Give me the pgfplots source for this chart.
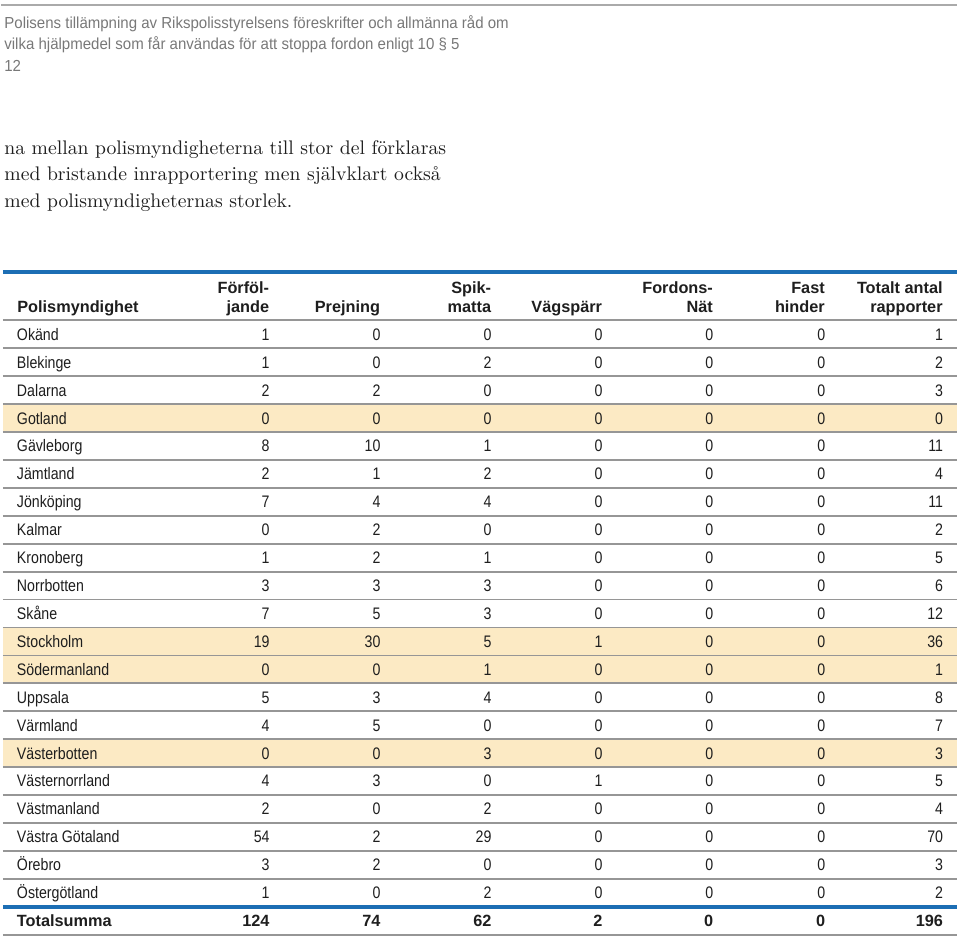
\documentclass[border=0pt]{standalone}
\usepackage{pgfplots}
\pgfplotsset{compat=1.18}
\usepackage{pgfplotstable}
\usepackage{fontspec}
\newfontfamily\sansf{Liberation Sans}
\newfontfamily\condf{Liberation Sans}[FakeStretch=0.85]
\newfontfamily\titlef{Liberation Sans}[FakeStretch=0.94]
\definecolor{tblue}{RGB}{28,110,180}
\definecolor{hl}{RGB}{252,234,196}
\definecolor{sepgray}{RGB}{150,150,150}
\definecolor{titlegray}{RGB}{120,120,120}
\definecolor{txt}{RGB}{30,30,30}

\pgfplotstableread[col sep=comma]{
name,f,p,s,v,n,h,t
Okänd,1,0,0,0,0,0,1
Blekinge,1,0,2,0,0,0,2
Dalarna,2,2,0,0,0,0,3
Gotland,0,0,0,0,0,0,0
Gävleborg,8,10,1,0,0,0,11
Jämtland,2,1,2,0,0,0,4
Jönköping,7,4,4,0,0,0,11
Kalmar,0,2,0,0,0,0,2
Kronoberg,1,2,1,0,0,0,5
Norrbotten,3,3,3,0,0,0,6
Skåne,7,5,3,0,0,0,12
Stockholm,19,30,5,1,0,0,36
Södermanland,0,0,1,0,0,0,1
Uppsala,5,3,4,0,0,0,8
Värmland,4,5,0,0,0,0,7
Västerbotten,0,0,3,0,0,0,3
Västernorrland,4,3,0,1,0,0,5
Västmanland,2,0,2,0,0,0,4
Västra Götaland,54,2,29,0,0,0,70
Örebro,3,2,0,0,0,0,3
Östergötland,1,0,2,0,0,0,2
}\data

\newcommand\rowfont{\condf\fontsize{8.35pt}{10pt}\selectfont}
\newcommand\boldfont{\sansf\bfseries\fontsize{8.15pt}{10pt}\selectfont}
\newcommand\titlefont{\titlef\fontsize{8pt}{10pt}\selectfont}
\newcommand\parafont{\rmfamily\fontsize{9.85pt}{12pt}\selectfont}

\pgfplotsset{
  cellR/.style={draw=none, mark=none, point meta=explicit symbolic,
    nodes near coords={\smash{\makebox[0pt][r]{\pgfplotspointmeta}}},
    every node near coord/.append style={inner sep=0pt, outer sep=0pt, text=txt, font=#1}},
  cellL/.style={draw=none, mark=none, point meta=explicit symbolic,
    nodes near coords={\smash{\makebox[0pt][l]{\pgfplotspointmeta}}},
    every node near coord/.append style={inner sep=0pt, outer sep=0pt, text=txt, font=#1}},
}

\begin{document}
\begin{tikzpicture}
\begin{axis}[
  scale only axis, width=480pt, height=468.5pt,
  xmin=0, xmax=960, ymin=0, ymax=937, y dir=reverse,
  hide axis, clip=false, unbounded coords=jump,
]
% frame extent
\addplot[draw=none] coordinates {(0,0) (960,937)};
% highlighted rows
\addplot[fill=hl, draw=none] coordinates {(2,404.5) (957,404.5) (957,432.5) (2,432.5)};
\addplot[fill=hl, draw=none] coordinates {(2,628.1) (957,628.1) (957,684.0) (2,684.0)};
\addplot[fill=hl, draw=none] coordinates {(2,739.9) (957,739.9) (957,767.9) (2,767.9)};
% top rule
\addplot[color={rgb,255:red,170;green,170;blue,170}, line width=1pt] coordinates {(0,5.5) (957,5.5)};
% table rules
\addplot[tblue, line width=2pt] coordinates {(2,272) (957,272)};
\addplot[sepgray, line width=1pt] coordinates {(2,320.3) (957,320.3)};
\addplot[sepgray, line width=0.9pt] coordinates {
 (2,348.6)(957,348.6)(nan,nan)(2,376.6)(957,376.6)(nan,nan)(2,404.5)(957,404.5)(nan,nan)
 (2,432.5)(957,432.5)(nan,nan)(2,460.4)(957,460.4)(nan,nan)(2,488.4)(957,488.4)(nan,nan)
 (2,516.3)(957,516.3)(nan,nan)(2,544.3)(957,544.3)(nan,nan)(2,572.2)(957,572.2)(nan,nan)
 (2,600.2)(957,600.2)(nan,nan)(2,628.1)(957,628.1)(nan,nan)(2,656.1)(957,656.1)(nan,nan)
 (2,684.0)(957,684.0)(nan,nan)(2,712.0)(957,712.0)(nan,nan)(2,739.9)(957,739.9)(nan,nan)
 (2,767.9)(957,767.9)(nan,nan)(2,795.8)(957,795.8)(nan,nan)(2,823.8)(957,823.8)(nan,nan)
 (2,851.7)(957,851.7)(nan,nan)(2,879.7)(957,879.7)};
\addplot[tblue, line width=2pt] coordinates {(2,907.7) (957,907.7)};
\addplot[sepgray, line width=1pt] coordinates {(2,935.6) (957,935.6)};

% body cells
\addplot[cellL=\rowfont] table[x expr=16, y expr=341.6+27.95*\coordindex, meta=name] \data;
\addplot[cellR=\rowfont] table[x expr=268.8, y expr=341.6+27.95*\coordindex, meta=f] \data;
\addplot[cellR=\rowfont] table[x expr=379.8, y expr=341.6+27.95*\coordindex, meta=p] \data;
\addplot[cellR=\rowfont] table[x expr=491, y expr=341.6+27.95*\coordindex, meta=s] \data;
\addplot[cellR=\rowfont] table[x expr=602, y expr=341.6+27.95*\coordindex, meta=v] \data;
\addplot[cellR=\rowfont] table[x expr=713, y expr=341.6+27.95*\coordindex, meta=n] \data;
\addplot[cellR=\rowfont] table[x expr=825, y expr=341.6+27.95*\coordindex, meta=h] \data;
\addplot[cellR=\rowfont] table[x expr=943, y expr=341.6+27.95*\coordindex, meta=t] \data;
% totals
\addplot[cellL=\boldfont] coordinates {(16,928.3) [Totalsumma]};
\addplot[cellR=\boldfont] coordinates {(268.8,928.3) [124] (379.8,928.3) [74] (491,928.3) [62] (602,928.3) [2] (713,928.3) [0] (825,928.3) [0] (943,928.3) [196]};

% headers
\node[anchor=base west, inner sep=0pt, font=\boldfont, text=txt] at (axis cs:16,313.3) {Polismyndighet};
\node[anchor=base east, inner sep=0pt, font=\boldfont, text=txt] at (axis cs:268.8,293.8) {Förföl-};
\node[anchor=base east, inner sep=0pt, font=\boldfont, text=txt] at (axis cs:268.8,313.3) {jande};
\node[anchor=base east, inner sep=0pt, font=\boldfont, text=txt] at (axis cs:379.8,313.3) {Prejning};
\node[anchor=base east, inner sep=0pt, font=\boldfont, text=txt] at (axis cs:491,293.8) {Spik-};
\node[anchor=base east, inner sep=0pt, font=\boldfont, text=txt] at (axis cs:491,313.3) {matta};
\node[anchor=base east, inner sep=0pt, font=\boldfont, text=txt] at (axis cs:602,313.3) {Vägspärr};
\node[anchor=base east, inner sep=0pt, font=\boldfont, text=txt] at (axis cs:713,293.8) {Fordons-};
\node[anchor=base east, inner sep=0pt, font=\boldfont, text=txt] at (axis cs:713,313.3) {Nät};
\node[anchor=base east, inner sep=0pt, font=\boldfont, text=txt] at (axis cs:825,293.8) {Fast};
\node[anchor=base east, inner sep=0pt, font=\boldfont, text=txt] at (axis cs:825,313.3) {hinder};
\node[anchor=base east, inner sep=0pt, font=\boldfont, text=txt] at (axis cs:943,293.8) {Totalt antal};
\node[anchor=base east, inner sep=0pt, font=\boldfont, text=txt] at (axis cs:943,313.3) {rapporter};

% running title
\node[anchor=base west, inner sep=0pt, font=\titlefont, text=titlegray] at (axis cs:3,28.5) {Polisens tillämpning av Rikspolisstyrelsens föreskrifter och allmänna råd om};
\node[anchor=base west, inner sep=0pt, font=\titlefont, text=titlegray] at (axis cs:3,49.8) {vilka hjälpmedel som får användas för att stoppa fordon enligt 10 § 5};
\node[anchor=base west, inner sep=0pt, font=\titlefont, text=titlegray] at (axis cs:3,71.2) {12};

% paragraph
\node[anchor=base west, inner sep=0pt, font=\parafont, text=txt] at (axis cs:3,154.3) {na mellan polismyndigheterna till stor del förklaras};
\node[anchor=base west, inner sep=0pt, font=\parafont, text=txt] at (axis cs:3,180.9) {med bristande inrapportering men självklart också};
\node[anchor=base west, inner sep=0pt, font=\parafont, text=txt] at (axis cs:3,207.4) {med polismyndigheternas storlek.};
\end{axis}
\end{tikzpicture}
\end{document}
